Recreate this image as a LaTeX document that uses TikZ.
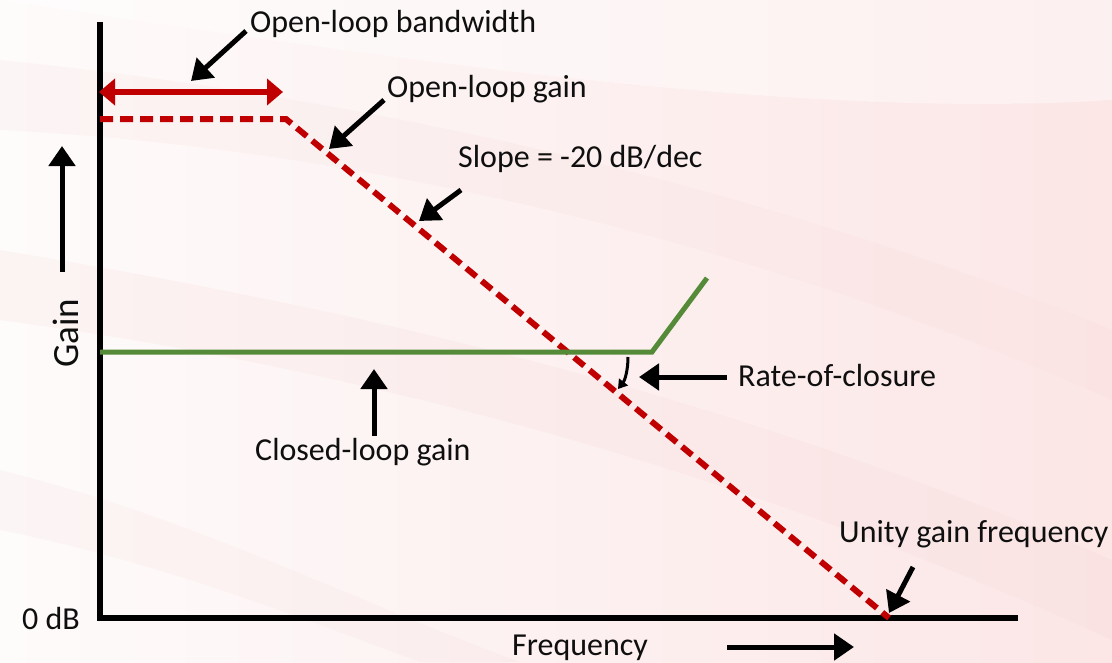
\documentclass[tikz,border=0pt]{standalone}
\usepackage{fontspec}
\setmainfont{Carlito}
\usetikzlibrary{arrows.meta,calc}

\definecolor{olred}{RGB}{192,0,0}
\definecolor{clgreen}{RGB}{84,138,56}
\definecolor{ink}{RGB}{15,15,15}
\definecolor{bgwhite}{RGB}{254,251,251}
\definecolor{bgpink}{RGB}{252,230,230}
\definecolor{streak}{RGB}{245,212,212}

\begin{document}
\begin{tikzpicture}[x=1pt,y=-1pt,
    label/.style={font=\fontsize{32}{36}\selectfont, text=ink, inner sep=0pt},
    axisline/.style={line width=5.5pt, draw=black},
    pointer/.style={line width=5pt, draw=black, -{Triangle[length=20pt,width=26pt]}},
    openloop/.style={line width=6pt, draw=olred, dash pattern=on 13pt off 7pt},
    closedloop/.style={line width=5pt, draw=clgreen},
    bwarrow/.style={line width=6pt, draw=olred,
        {Triangle[length=16pt,width=26pt]}-{Triangle[length=16pt,width=26pt]}}]

% background
\useasboundingbox (0,0) rectangle (1112,662);
\shade[left color=bgwhite, right color=bgpink] (0,0) rectangle (1112,662);
\fill[streak, opacity=0.18] (0,250) .. controls (300,300) and (700,380) .. (1112,560)
    -- (1112,640) .. controls (700,450) and (300,360) .. (0,320) -- cycle;
\fill[streak, opacity=0.14] (0,60) .. controls (400,100) and (800,200) .. (1112,330)
    -- (1112,400) .. controls (800,260) and (400,150) .. (0,130) -- cycle;
\fill[streak, opacity=0.14] (0,470) .. controls (200,520) and (350,600) .. (520,662)
    -- (420,662) .. controls (280,610) and (150,560) .. (0,530) -- cycle;
\fill[white, opacity=0.4] (0,0) .. controls (400,60) and (800,120) .. (1112,100)
    -- (1112,0) -- cycle;

% axes
\coordinate (ytop) at (100,22);
\coordinate (orig) at (100,618);
\coordinate (xend) at (1018,618);
\draw[axisline] (ytop) -- (orig) -- (xend);

% open-loop response
\coordinate (olstart) at (100,119);
\coordinate (olcorner) at (286,119);
\coordinate (unity) at (889,618);
\draw[openloop] (olstart) -- (olcorner) -- (unity);

% closed-loop response
\coordinate (clstart) at (100,352);
\coordinate (clcorner) at (652,352);
\coordinate (clend) at (707,278);
\draw[closedloop] (clstart) -- (clcorner) -- (clend);

% open-loop bandwidth span
\coordinate (bwl) at (99,92);
\coordinate (bwr) at (283,92);
\draw[bwarrow] (bwl) -- (bwr);

% labels
\node[label, anchor=base west] (lbw) at (250,32) {Open-loop bandwidth};
\node[label, anchor=base west] (lolg) at (387,97) {Open-loop gain};
\node[label, anchor=base west] (lslope) at (458,167) {Slope = -20 dB/dec};
\node[label, anchor=base west] (lrate) at (738,386) {Rate-of-closure};
\node[label, anchor=base west] (lclosed) at (255,460) {Closed-loop gain};
\node[label, anchor=base west] (lunity) at (839,542) {Unity gain frequency};
\node[label, anchor=base west] (lfreq) at (512,655) {Frequency};
\node[label, anchor=base west] (lzero) at (22,629) {0 dB};
\node[label, font=\fontsize{37}{40}\selectfont, rotate=90, anchor=base west] (lgain) at (78,368) {Gain};

% pointer arrows
\coordinate (pbw1) at (246,31);   \coordinate (pbw2) at (191,81);
\coordinate (pog1) at (384,100);  \coordinate (pog2) at (329,149);
\coordinate (psl1) at (461,190);  \coordinate (psl2) at (419,221);
\coordinate (prc1) at (727,377);  \coordinate (prc2) at (639,377);
\coordinate (pcl1) at (374,436);  \coordinate (pcl2) at (374,369);
\coordinate (pug1) at (913,567);  \coordinate (pug2) at (889,613);
\coordinate (pga1) at (62,272);   \coordinate (pga2) at (62,146);
\coordinate (pfr1) at (727,647);  \coordinate (pfr2) at (854,647);
\foreach \a/\b in {pbw1/pbw2, pog1/pog2, psl1/psl2, prc1/prc2, pcl1/pcl2,
                   pug1/pug2, pga1/pga2, pfr1/pfr2}
  \draw[pointer] (\a) -- (\b);

% angle between the two responses
\coordinate (ang1) at (628,357);
\coordinate (ang2) at (618,389);
\draw[line width=3pt, -{Triangle[length=9pt,width=11pt]}] (ang1) .. controls (628,370) and (625,380) .. (ang2);

\end{tikzpicture}
\end{document}
